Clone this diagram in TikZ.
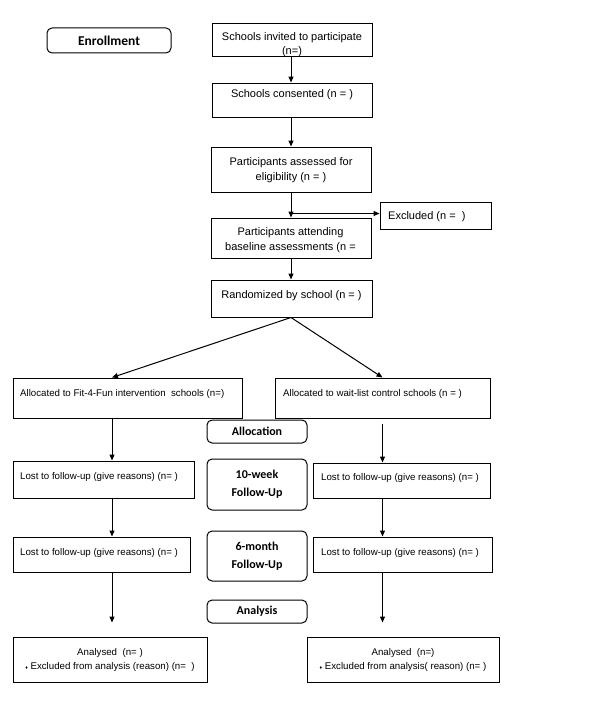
\documentclass[tikz,border=0pt]{standalone}
\usepackage{fontspec}
\setmainfont{Liberation Sans}
\newfontfamily\hdrfam{Carlito}
\usetikzlibrary{arrows.meta,fit,calc}
\tikzset{
  box/.style={draw, line width=1pt, rectangle, inner sep=0pt},
  hdr/.style={draw, line width=1pt, rectangle, rounded corners=5pt, inner sep=0pt},
  big/.style={font=\fontsize{11}{14.5}\selectfont, inner sep=0pt},
  small/.style={font=\fontsize{9.7}{14}\selectfont, inner sep=0pt},
  hdrtext/.style={font=\hdrfam\bfseries\fontsize{12}{18}\selectfont, inner sep=0pt, align=center},
  arr/.style={-{Triangle[length=6pt,width=5pt]}, line width=1pt},
  ln/.style={line width=1pt}
}
\begin{document}
\begin{tikzpicture}[x=1pt,y=-1pt]
\useasboundingbox (0,0) rectangle (600,709);
% header boxes
\node[hdr, fit={(47,28) (171,53)}] (enr) {};
\node[hdrtext, font=\hdrfam\bfseries\fontsize{13.5}{18}\selectfont] (enrt) at (109,41) {Enrollment};
\node[hdr, fit={(207,420) (307,443)}] (alc) {};
\node[hdrtext] (alct) at (257,431.5) {Allocation};
\node[hdr, fit={(207,459) (307,510)}] (wk) {};
\node[hdrtext] (wkt) at (257,484.5) {10-week\\Follow-Up};
\node[hdr, fit={(207,531) (307,581)}] (mo) {};
\node[hdrtext] (mot) at (257,556) {6-month\\Follow-Up};
\node[hdr, fit={(207,600) (307,623)}] (ana) {};
\node[hdrtext] (anat) at (257,611.5) {Analysis};
% top column
\node[box, fit={(212,24) (372,57)}] (inv) {};
\node[big, align=center] (invt) at (292,44.5) {Schools invited to participate\\(n=)};
\node[box, fit={(212,83) (372,117)}] (cons) {};
\node[big] (const) at (292,95) {Schools consented (n = )};
\node[box, fit={(211,147) (371,192)}] (ass) {};
\node[big, align=center] (asst) at (291,170) {Participants assessed for\\eligibility (n = )};
\node[box, fit={(380,202) (491,229)}] (exc) {};
\node[big, anchor=west] (exct) at (388,217) {Excluded (n =~~)};
\node[box, fit={(211,218) (371,258)}] (att) {};
\node[big, align=center] (attt) at (290.5,240) {Participants attending\\baseline assessments (n =};
\node[box, fit={(211,280) (372,317)}] (rnd) {};
\node[big] (rndt) at (291.5,296) {Randomized by school (n = )};
% allocation
\node[box, fit={(13,378) (242,418)}] (al) {};
\node[small, anchor=west] (alt) at (20,393.5) {Allocated to Fit-4-Fun intervention~ schools (n=)};
\node[box, fit={(275,378) (490,418)}] (ar) {};
\node[small, anchor=west] (art) at (283,393.5) {Allocated to wait-list control schools (n = )};
% follow-up 1
\node[box, fit={(13,461) (194,498)}] (l1) {};
\node[small, anchor=west] (l1t) at (20,476.5) {Lost to follow-up (give reasons) (n= )};
\node[box, fit={(313,463) (490,498)}] (r1) {};
\node[small, anchor=west] (r1t) at (321,478) {Lost to follow-up (give reasons) (n= )};
% follow-up 2
\node[box, fit={(13,537) (190,572)}] (l2) {};
\node[small, anchor=west] (l2t) at (20,552.5) {Lost to follow-up (give reasons) (n= )};
\node[box, fit={(313,537) (492,572)}] (r2) {};
\node[small, anchor=west] (r2t) at (321,552.5) {Lost to follow-up (give reasons) (n= )};
% analysis
\node[box, fit={(13,637) (207,682)}] (anl) {};
\node[small, align=center] (anlt) at (110,659.5) {Analysed~ (n= )\\{\fontsize{5}{5}\selectfont ♦} Excluded from analysis (reason) (n=~~)};
\node[box, fit={(307,637) (499,682)}] (anr) {};
\node[small, align=center] (anrt) at (403,659.5) {Analysed~ (n=)\\{\fontsize{5}{5}\selectfont ♦} Excluded from analysis( reason) (n= )};
% column coordinates
\coordinate (lx) at (112,0);
\coordinate (rx) at (382.5,0);
\coordinate (cx) at (291,0);
% connectors
\draw[arr] (inv.south -| cx) -- (cons.north -| cx);
\draw[arr] (cons.south -| cx) -- (ass.north -| cx);
\draw[arr] (ass.south -| cx) -- (att.north -| cx);
\draw[arr] (ass.south -| cx) ++(0,21) coordinate (j) -- (exc.west |- j);
\draw[arr] (att.south -| cx) -- (rnd.north -| cx);
\draw[arr] (rnd.south -| cx) -- (al.north -| lx);
\draw[arr] (rnd.south -| cx) -- (ar.north -| rx);
\draw[arr] (al.south -| lx) -- (l1.north -| lx);
\draw[arr] ($(ar.south -| rx)+(0,5)$) -- (r1.north -| rx);
\draw[arr] (l1.south -| lx) -- (l2.north -| lx);
\draw[arr] (r1.south -| rx) -- (r2.north -| rx);
\draw[arr] (l2.south -| lx) -- ($(anl.north -| lx)+(0,-14)$);
\draw[arr] (r2.south -| rx) -- ($(anr.north -| rx)+(0,-14)$);
\end{tikzpicture}
\end{document}
